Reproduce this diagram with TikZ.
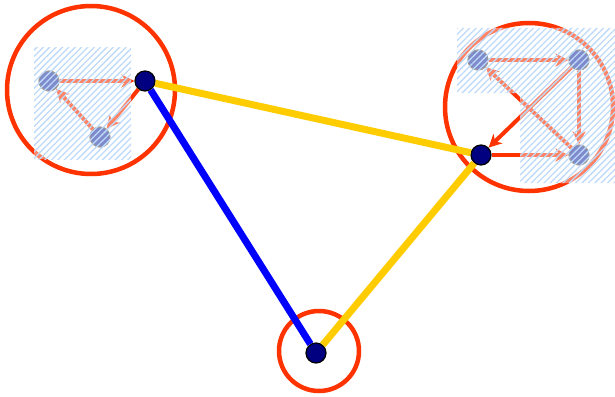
\documentclass[tikz,border=0pt]{standalone}
\usetikzlibrary{arrows.meta,patterns.meta}
\definecolor{ringred}{RGB}{255,51,0}
\definecolor{edgeyellow}{RGB}{255,204,0}
\definecolor{edgeblue}{RGB}{0,0,255}
\definecolor{hubnavy}{RGB}{0,0,128}
\definecolor{smallblue}{RGB}{40,60,170}
\definecolor{hatchblue}{RGB}{190,218,250}
\tikzset{
  ring/.style={circle, draw=ringred, line width=4.5pt, inner sep=0pt, minimum size=#1},
  hub/.style={circle, draw=black, line width=1.2pt, fill=hubnavy, inner sep=0pt, minimum size=20pt},
  member/.style={circle, draw=gray!70!black, line width=1.2pt, fill=smallblue, inner sep=0pt, minimum size=20pt},
  arr/.style={draw=ringred, line width=4pt, -{Stealth[length=13pt,width=13pt,inset=4pt]}},
  veil/.style={fill=white, fill opacity=0.4},
  hatch/.style={pattern={Lines[angle=45,distance=4.5pt,line width=1.3pt]}, pattern color=hatchblue},
  link/.style={line width=7pt}
}
\begin{document}
\begin{tikzpicture}[x=1pt,y=-1pt]
\useasboundingbox (0,0) rectangle (615,396);
% rings
\node[ring=168pt] (cL) at (91,90) {};
\node[ring=168pt] (cR) at (529,107) {};
\node[ring=80pt] (cB) at (319,351) {};
% nodes
\node[member] (a1) at (49,81) {};
\node[member] (a2) at (100,137) {};
\node[member] (b1) at (478,60) {};
\node[member] (b2) at (579,60) {};
\node[member] (b3) at (579,155) {};
\node[hub] (h1) at (145,81) {};
\node[hub] (h2) at (481,155) {};
\node[hub] (h3) at (316,353) {};
% arrows
\draw[arr] (a1) -- (h1);
\draw[arr] (h1) -- (a2);
\draw[arr] (a2) -- (a1);
\draw[arr] (b1) -- (b2);
\draw[arr] (b2) -- (b3);
\draw[arr] (b3) -- (b1);
\draw[arr] (b2) -- (h2);
\draw[arr] (h2) -- (b3);
% hatched veils
\path[veil] (34,48) rectangle (131,159);
\path[hatch] (34,48) rectangle (131,159);
\path[veil] (457,28) -- (615,28) -- (615,183) -- (520,183) -- (520,93) -- (457,93) -- cycle;
\path[hatch] (457,28) -- (615,28) -- (615,183) -- (520,183) -- (520,93) -- (457,93) -- cycle;
% links
\draw[link, edgeyellow] (h1) -- (h2);
\draw[link, edgeyellow] (h2) -- (h3);
\draw[link, edgeblue] (h1) -- (h3);
\end{tikzpicture}
\end{document}
